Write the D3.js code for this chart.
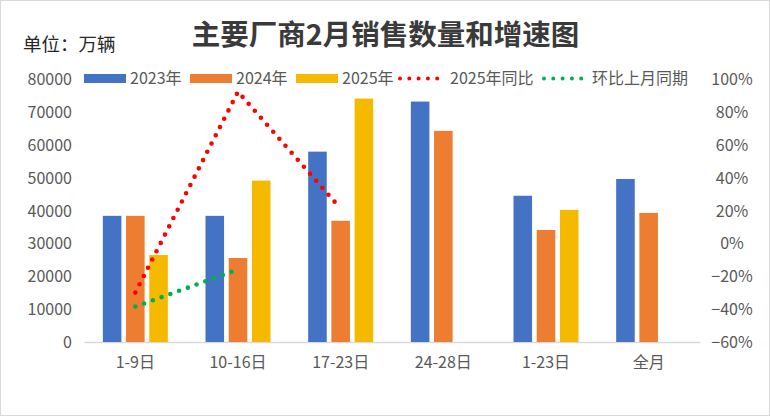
<!DOCTYPE html>
<html><head><meta charset="utf-8">
<script src="https://cdn.jsdelivr.net/npm/d3@7"></script>
<style>
html,body{margin:0;padding:0;background:#fff;}
svg text{font-family:"Noto Sans CJK SC","Noto Sans",sans-serif;}
</style></head>
<body>
<svg id="chart" width="770" height="416"></svg>
<script>
const categories = ["1-9日","10-16日","17-23日","24-28日","1-23日","全月"];
const seriesNames = ["2023年","2024年","2025年"];
const sales2023 = [38300, 38300, 57800, 73000, 44400, 49500];
const sales2024 = [38300, 25500, 36800, 64100, 34000, 39200];
const sales2025 = [26400, 49000, 73900, null, 40100, null];
const yoy2025 = [-0.30, 0.92, 0.21, null, null, null];
const momSamePeriod = [-0.385, -0.16, null, null, null, null];
const leftTicks = [0,10000,20000,30000,40000,50000,60000,70000,80000];
const rightTicks = [-0.6,-0.4,-0.2,0,0.2,0.4,0.6,0.8,1.0];
const colors = ["#4472C4","#ED7D31","#F5BA00"];
const lineColors = ["#FF0000","#00B050"];
const lineNames = ["2025年同比","环比上月同期"];

const svg = d3.select("#chart");
svg.append("rect").attr("x",0.5).attr("y",0.5).attr("width",769).attr("height",415)
  .attr("fill","#fff").attr("stroke","#D9D9D9");

const x0 = d3.scaleBand().domain(categories).range([84,700]).paddingInner(0).paddingOuter(0);
const x1 = d3.scaleBand().domain(seriesNames).range([-32.5,32.5]).paddingInner(0.2);
const yL = d3.scaleLinear().domain([0,80000]).range([342,78.5]);
const yR = d3.scaleLinear().domain([-0.6,1.0]).range([342,78.5]);

// title
svg.append("text").attr("x",385.5).attr("y",45).attr("text-anchor","middle")
  .attr("font-size",28.5).attr("font-weight","bold").attr("fill","#3A3A3A")
  .text("主要厂商2月销售数量和增速图");
svg.append("text").attr("x",23).attr("y",51).attr("font-size",18.5).attr("fill","#262626")
  .text("单位：万辆");

// left axis
const gL = svg.append("g").attr("transform","translate(72,0)")
  .call(d3.axisLeft(yL).tickValues(leftTicks).tickSize(0).tickPadding(0).tickFormat(d3.format("d")));
gL.select(".domain").remove();
gL.selectAll("text").attr("font-size",16).attr("fill","#595959").attr("dy","0.36em")
  .style("font-family",'"Noto Sans CJK SC",sans-serif');

// right axis
const gR = svg.append("g").attr("transform","translate(732,0)")
  .call(d3.axisRight(yR).tickValues(rightTicks).tickSize(0).tickPadding(0).tickFormat(d3.format(".0%")));
gR.select(".domain").remove();
gR.selectAll("text").attr("font-size",16).attr("fill","#595959").attr("text-anchor","middle").attr("dy","0.36em")
  .style("font-family",'"Noto Sans CJK SC",sans-serif');

// bottom axis
const gB = svg.append("g").attr("transform","translate(0,342)")
  .call(d3.axisBottom(x0).tickSize(0).tickPadding(0));
gB.select(".domain").attr("stroke","#D9D9D9").attr("stroke-width",1.5);
gB.selectAll("text").attr("font-size",16).attr("fill","#595959").attr("dy","1.65em")
  .style("font-family",'"Noto Sans CJK SC",sans-serif');

// bars
const seriesVals = [sales2023, sales2024, sales2025];
const rows = [];
categories.forEach((c,i)=>seriesVals.forEach((s,j)=>{ if(s[i]!=null) rows.push({c, name:seriesNames[j], v:s[i], j}); }));
svg.append("g").selectAll("rect").data(rows).join("rect")
  .attr("x",d=>x0(d.c)+x0.bandwidth()/2+x1(d.name))
  .attr("width",x1.bandwidth())
  .attr("y",d=>yL(d.v))
  .attr("height",d=>yL(0)-yL(d.v))
  .attr("fill",d=>colors[d.j]);

// dotted lines
const cx = c=>x0(c)+x0.bandwidth()/2;
[yoy2025, momSamePeriod].forEach((arr,k)=>{
  const pts = categories.map((c,i)=>({c,v:arr[i]})).filter(d=>d.v!=null);
  svg.append("path").datum(pts)
    .attr("d", d3.line().x(d=>cx(d.c)).y(d=>yR(d.v)))
    .attr("fill","none").attr("stroke",lineColors[k]).attr("stroke-width",4.6)
    .attr("stroke-linecap","round").attr("stroke-dasharray","0 9.3");
});

// legend
const leg = svg.append("g");
const swY = 78.5;
const barLeg = [84,190,296];
seriesNames.forEach((n,j)=>{
  leg.append("rect").attr("x",barLeg[j]).attr("y",swY-4.5).attr("width",42).attr("height",9).attr("fill",colors[j]);
  leg.append("text").attr("x",barLeg[j]+46).attr("y",swY).attr("dy","0.36em").attr("font-size",16).attr("fill","#595959").text(n);
});
const lineLeg = [[400,442],[544,584]];
lineNames.forEach((n,k)=>{
  leg.append("line").attr("x1",lineLeg[k][0]).attr("x2",lineLeg[k][1]).attr("y1",swY).attr("y2",swY)
    .attr("stroke",lineColors[k]).attr("stroke-width",4).attr("stroke-linecap","round").attr("stroke-dasharray","0 9.3");
  leg.append("text").attr("x",lineLeg[k][1]+8).attr("y",swY).attr("dy","0.36em").attr("font-size",16).attr("fill","#595959").text(n);
});
</script>
</body></html>
